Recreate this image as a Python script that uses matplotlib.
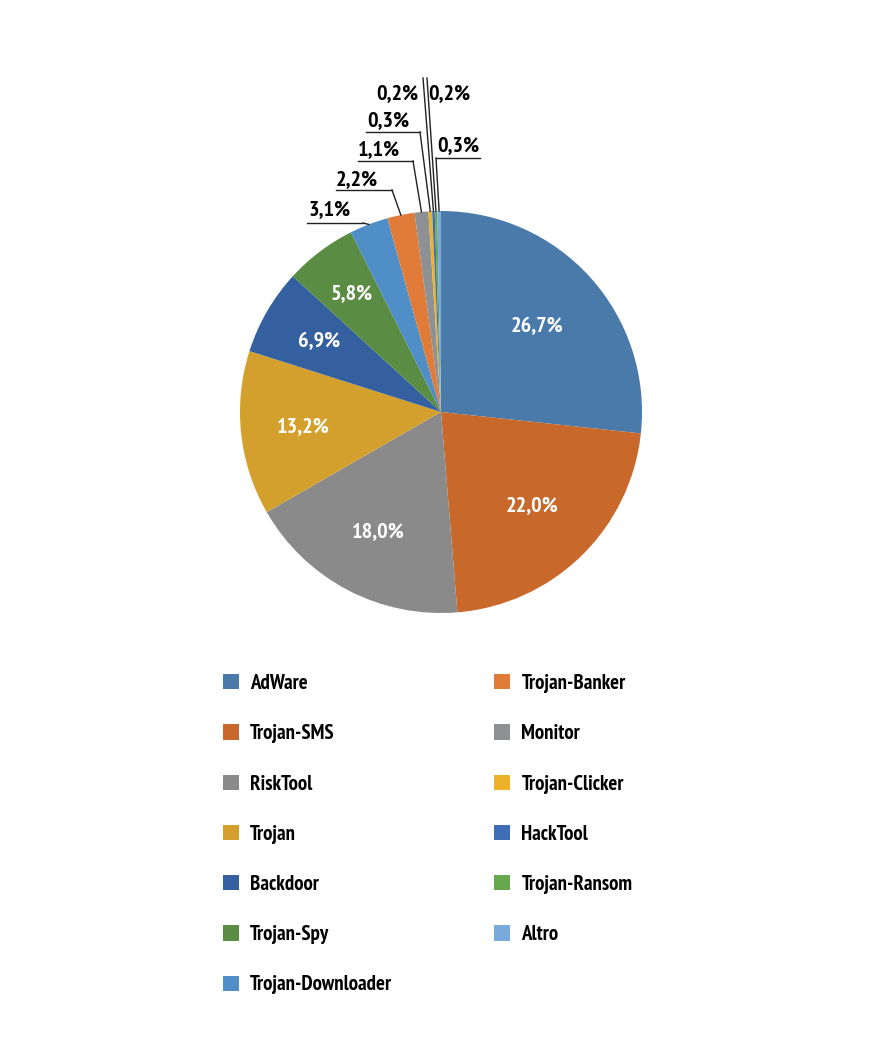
import numpy as np
import matplotlib
matplotlib.use("Agg")
import matplotlib.pyplot as plt

# Data
categories = ["AdWare", "Trojan-SMS", "RiskTool", "Trojan", "Backdoor", "Trojan-Spy",
              "Trojan-Downloader", "Trojan-Banker", "Monitor", "Trojan-Clicker",
              "HackTool", "Trojan-Ransom", "Altro"]
shares = [26.7, 22.0, 18.0, 13.2, 6.9, 5.8, 3.1, 2.2, 1.1, 0.3, 0.2, 0.2, 0.3]
colors = ["#497AAA", "#C8682A", "#8A8A8A", "#D4A02D", "#3460A0", "#5A8C44",
          "#4F8EC6", "#E07B3A", "#8E9193", "#EEB12A", "#3E6DB5", "#67A84E", "#7AAADB"]

plt.rcParams['font.family'] = ['PT Sans Narrow', 'DejaVu Sans']
plt.rcParams['font.weight'] = 'bold'

W, H = 882, 1055
CX, CY, R = 441, 412, 201

def fy(y):
    # image rows (top origin) -> data y
    return H - y

fig = plt.figure(figsize=(W / 100, H / 100), dpi=100)
ax = fig.add_axes([0, 0, 1, 1])

wedges, _ = ax.pie(shares, colors=colors, startangle=90, counterclock=False,
                   center=(CX, fy(CY)), radius=R, wedgeprops=dict(linewidth=0))
ax.set_xlim(0, W)
ax.set_ylim(0, H)
ax.set_aspect('equal')
ax.axis('off')

def fmt(v):
    return f"{v:.1f}%".replace(".", ",")

def mid_point(w, frac):
    a = np.deg2rad((w.theta1 + w.theta2) / 2)
    return CX + frac * R * np.cos(a), fy(CY) + frac * R * np.sin(a)

# labels inside the big wedges (distance as fraction of radius)
inside = {0: 0.64, 1: 0.65, 2: 0.67, 3: 0.69, 4: 0.70, 5: 0.74}
for i, d in inside.items():
    x, y = mid_point(wedges[i], d)
    ax.text(x, y, fmt(shares[i]), color="white", fontsize=16,
            ha="center", va="center")

# labels outside: text centre, underline (y, x_start, x_end), elbow x
outside = {
    6: dict(text=(330, 210), line=(223, 307, 363), elbow=363),
    7: dict(text=(357, 180), line=(190, 336, 392), elbow=392),
    8: dict(text=(379, 150), line=(161, 358, 413), elbow=413),
    9: dict(text=(388, 121), line=(132, 366, 420), elbow=420),
    10: dict(text=(397, 94), line=None, elbow=(423, 78)),
    11: dict(text=(449, 94), line=None, elbow=(427, 78)),
    12: dict(text=(458, 146), line=(158, 436, 480), elbow=436),
}
lc = "#222222"
for i, o in outside.items():
    ax_, ay_ = mid_point(wedges[i], 1.0)
    tx, ty = o["text"]
    ax.text(tx, fy(ty), fmt(shares[i]), color="black", fontsize=16,
            ha="center", va="center")
    if o["line"] is None:
        ex, ey = o["elbow"]
        ax.plot([ax_, ex], [ay_, fy(ey)], color=lc, lw=1)
    else:
        ly, x0, x1 = o["line"]
        ax.plot([x0, x1], [fy(ly), fy(ly)], color=lc, lw=1)
        ax.plot([o["elbow"], ax_], [fy(ly), ay_], color=lc, lw=1)

leg = ax.legend(wedges, categories, ncol=2, loc="upper left",
                bbox_to_anchor=(223, fy(674)), bbox_transform=ax.transData,
                frameon=False, fontsize=15, borderpad=0, borderaxespad=0,
                handlelength=0.75, handleheight=0.75, handletextpad=0.55,
                labelspacing=1.5, columnspacing=4.9)

fig.savefig("out.png", dpi=100, facecolor="white")
